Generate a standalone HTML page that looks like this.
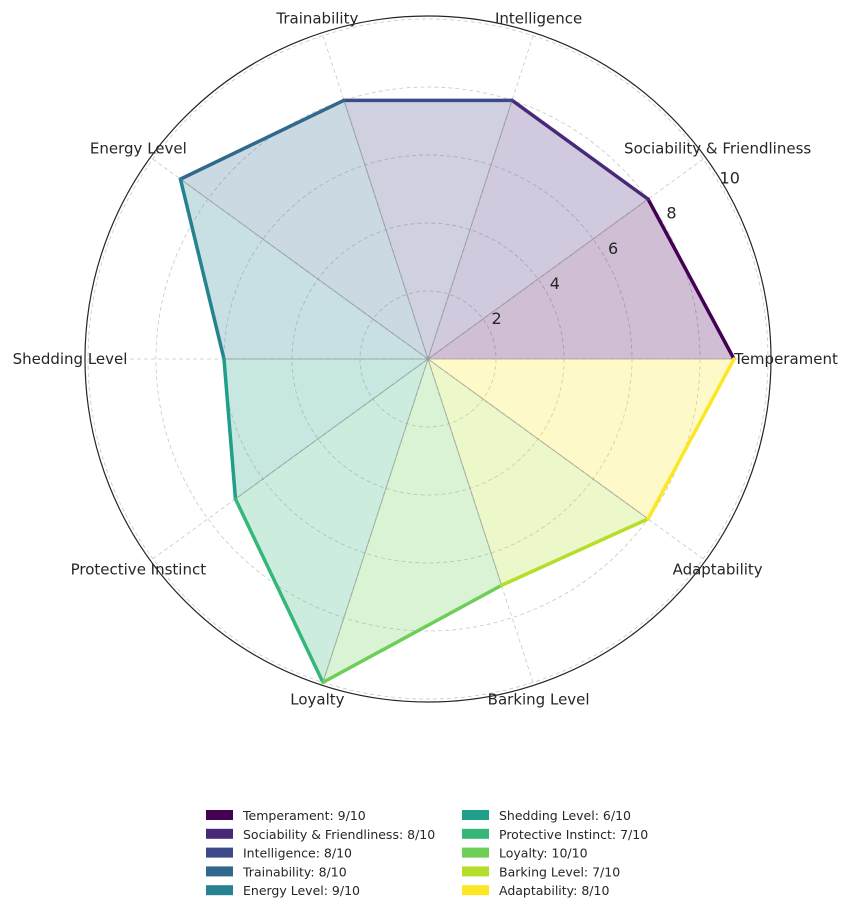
<!DOCTYPE html>
<html><head><meta charset="utf-8"><style>
body{margin:0;background:#fff}
svg text{font-family:"DejaVu Sans","Liberation Sans",sans-serif;fill:#262626}
</style></head><body>
<svg id="chart" width="850" height="913" viewBox="0 0 850 913" xmlns="http://www.w3.org/2000/svg"></svg>
<script>
const categories=["Temperament","Sociability & Friendliness","Intelligence","Trainability","Energy Level","Shedding Level","Protective Instinct","Loyalty","Barking Level","Adaptability"];
const values=[9,8,8,8,9,6,7,10,7,8];
const colors=["#440154","#482878","#3e4989","#31688e","#26828e","#1f9e89","#35b779","#6ece58","#b5de2b","#fde725"];
const rTicks=[2,4,6,8,10];
const rMax=10;
const svg=document.getElementById('chart');
const NS='http://www.w3.org/2000/svg';
const cx=428,cy=359,R=340;
function mk(t,a,p){const e=document.createElementNS(NS,t);for(const k in a)e.setAttribute(k,a[k]);(p||svg).appendChild(e);return e;}
function rs(v){return v/rMax*R;}
function ang(i){return i*2*Math.PI/categories.length;}
function pt(i,v){const a=ang(i);return [cx+rs(v)*Math.cos(a),cy-rs(v)*Math.sin(a)];}
rTicks.forEach(t=>{const c=mk('circle',{cx,cy,r:rs(t),fill:'none',stroke:'#c8c8c8','stroke-dasharray':'4,3','stroke-width':0.8});

});
categories.forEach((c,i)=>{const [x,y]=pt(i,rMax*1.01);const l=mk('line',{x1:cx,y1:cy,x2:x,y2:y,stroke:'#c8c8c8','stroke-dasharray':'4,3','stroke-width':0.8});

});
categories.forEach((c,i)=>{const n=(i+1)%categories.length;const p1=pt(i,values[i]),p2=pt(n,values[n]);
const w=mk('polygon',{points:`${cx},${cy} ${p1[0]},${p1[1]} ${p2[0]},${p2[1]}`,fill:colors[i],'fill-opacity':0.25,stroke:'#999','stroke-opacity':0.45,'stroke-width':1});


const l=mk('line',{x1:p1[0],y1:p1[1],x2:p2[0],y2:p2[1],stroke:colors[i],'stroke-width':3.5,'stroke-linecap':'round'});

});
const sp=mk('circle',{cx,cy,r:343,fill:'none',stroke:'#262626','stroke-width':1.2});


rTicks.forEach(t=>{const a=31*Math.PI/180;const r=rs(t)+12;const tx=mk('text',{x:cx+r*Math.cos(a),y:cy-r*Math.sin(a)+6,'font-size':16,'text-anchor':'middle'});tx.textContent=t;

});
categories.forEach((c,i)=>{const a=ang(i);const r=358;let x=cx+r*Math.cos(a),y=cy-r*Math.sin(a)+5;
const tx=mk('text',{x,y,'font-size':15,'text-anchor':'middle'});tx.textContent=c;

});
categories.forEach((c,i)=>{const col=Math.floor(i/5),row=i%5;const px=col?462:206,y=815+row*18.8;
const g=mk('g',{});


mk('rect',{x:px,y:y-5,width:27,height:10,fill:colors[i]},g);
const tx=mk('text',{x:px+37,y:y+5,'font-size':12.5},g);tx.textContent=`${c}: ${values[i]}/10`;});
</script>
</body></html>
